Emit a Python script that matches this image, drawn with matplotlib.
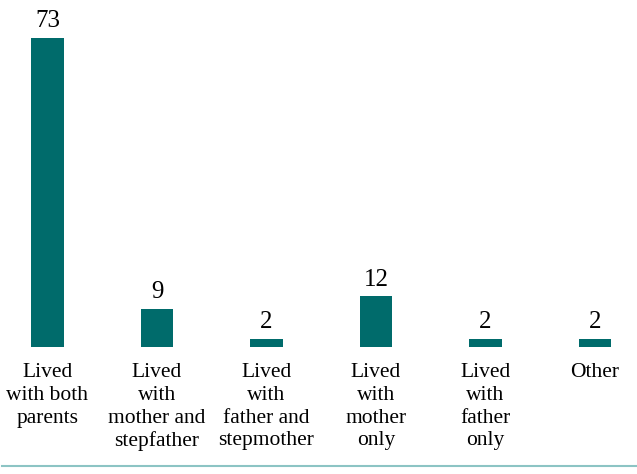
import matplotlib.pyplot as plt
from matplotlib.lines import Line2D

categories = ['Lived\nwith both\nparents', 'Lived\nwith\nmother and\nstepfather',
              'Lived\nwith\nfather and\nstepmother', 'Lived\nwith\nmother\nonly',
              'Lived\nwith\nfather\nonly', 'Other']
values = [73, 9, 2, 12, 2, 2]

W, H = 637, 474
fig = plt.figure(figsize=(W / 100, H / 100), dpi=100)
ax = fig.add_axes([0, 1 - 347 / H, 1, 347 / H])
x = range(len(values))
ax.bar(x, values, width=0.30, color='#006b6b')
ax.set_xlim(-47.5 / 109.5, (W - 47.5) / 109.5)
ax.set_ylim(0, 347 / 4.233)
ax.axis('off')

for i, v in enumerate(values):
    ax.annotate(str(v), (i, v), xytext=(0, 4), textcoords='offset points',
                ha='center', va='bottom', fontsize=18, family='Liberation Serif')
    ax.annotate(categories[i], (i, 0), xytext=(0, -11.5), textcoords='offset points',
                ha='center', va='top', fontsize=15.5, family='Liberation Serif',
                linespacing=1.27)

fig.add_artist(Line2D([2 / W, 1], [1 - 466 / H] * 2, color='#8cc4c4', lw=1.5))
fig.savefig('out.png', dpi=100)
